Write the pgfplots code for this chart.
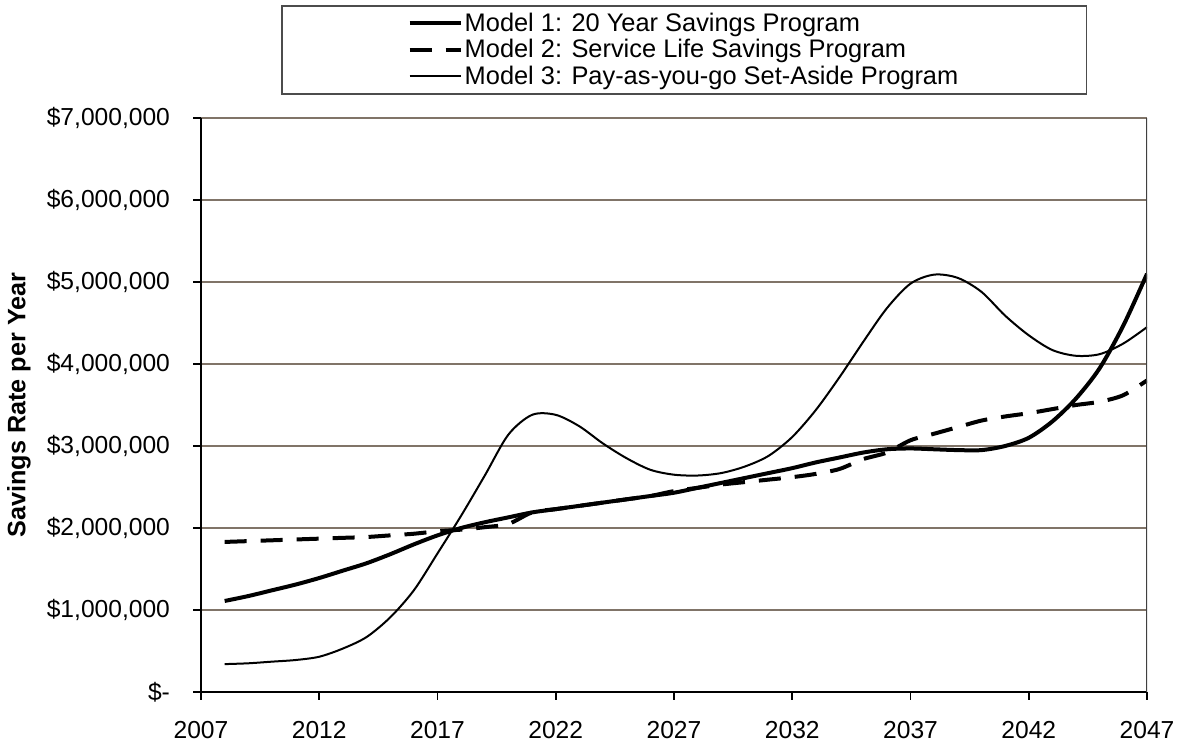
\documentclass[border=0pt]{standalone}
\usepackage{fontspec}
\setmainfont{Liberation Sans}
\usepackage{pgfplots}
\usepackage{pgfplotstable}
\pgfplotsset{compat=1.18}
\definecolor{gridbrown}{RGB}{128,116,104}

% Annual savings (millions of dollars)
\pgfplotstableread{
year m1   m2   m3
2008 1.11 1.83 0.34
2009 1.17 1.84 0.35
2010 1.24 1.85 0.37
2011 1.31 1.86 0.39
2012 1.39 1.87 0.43
2013 1.48 1.88 0.53
2014 1.57 1.89 0.67
2015 1.68 1.91 0.91
2016 1.80 1.93 1.24
2017 1.91 1.96 1.69
2018 2.00 1.98 2.15
2019 2.07 2.01 2.64
2020 2.13 2.05 3.14
2021 2.19 2.19 3.38
2022 2.23 2.23 3.38
2023 2.27 2.27 3.24
2024 2.31 2.31 3.03
2025 2.35 2.35 2.85
2026 2.39 2.39 2.71
2027 2.43 2.45 2.65
2028 2.49 2.49 2.64
2029 2.55 2.53 2.67
2030 2.61 2.56 2.75
2031 2.67 2.59 2.88
2032 2.73 2.62 3.11
2033 2.80 2.66 3.44
2034 2.86 2.72 3.84
2035 2.92 2.84 4.27
2036 2.96 2.92 4.68
2037 2.97 3.07 4.98
2038 2.96 3.15 5.09
2039 2.95 3.23 5.05
2040 2.95 3.31 4.88
2041 3.00 3.36 4.59
2042 3.10 3.40 4.35
2043 3.30 3.45 4.17
2044 3.58 3.50 4.10
2045 3.95 3.54 4.12
2046 4.47 3.62 4.25
2047 5.10 3.80 4.45
}\savings

\begin{document}
\begin{tikzpicture}
\path[use as bounding box] (0,0) rectangle (589pt,374pt);
\begin{axis}[
  at={(100.5pt,28pt)}, anchor=south west,
  scale only axis, width=473pt, height=287pt,
  xmin=2007, xmax=2047, ymin=0, ymax=7,
  axis x line*=bottom, axis y line*=left,
  axis line style={-, black, line width=0.9pt},
  xtick={2007,2012,...,2047},
  ytick={0,1,...,7},
  yticklabels={\$-,{\$1,000,000},{\$2,000,000},{\$3,000,000},{\$4,000,000},{\$5,000,000},{\$6,000,000},{\$7,000,000}},
  xticklabels={2007,2012,2017,2022,2027,2032,2037,2042,2047},
  tick align=outside, major tick length=4pt,
  tick style={black, line width=0.8pt},
  ymajorgrids, grid style={gridbrown, line width=0.9pt},
  ticklabel style={font=\fontsize{12.3}{14}\selectfont},
  yticklabel style={xshift=-8pt},
  xticklabel style={yshift=-7pt},
  ylabel={\textbf{Savings Rate per Year}},
  ylabel style={font=\fontsize{12.6}{14}\selectfont, at={(axis description cs:-0.1924,0.5)}, anchor=center},
  legend style={at={(axis description cs:0.5106,1.1969)}, anchor=north,
    draw=black!70, line width=0.8pt, inner xsep=63pt, inner ysep=1.5pt,
    row sep=-1.5pt,
    font=\fontsize{12.7}{14}\selectfont,
    nodes={inner xsep=1pt}},
  legend cell align=left,
  legend image code/.code={\draw[#1] (0pt,0pt) -- (25.5pt,0pt);},
]
\addplot[black, line width=2pt, smooth] table[x=year, y=m1] {\savings};
\addlegendentry{Model 1: 20 Year Savings Program}
\addplot[black, line width=2pt, smooth, dash pattern=on 11pt off 7pt] table[x=year, y=m2] {\savings};
\addlegendentry{Model 2: Service Life Savings Program}
\addplot[black, line width=1pt, smooth] table[x=year, y=m3] {\savings};
\addlegendentry{Model 3: Pay-as-you-go Set-Aside Program}
\draw[black!75, line width=0.9pt] (rel axis cs:1,0) -- (rel axis cs:1,1);
\end{axis}
\end{tikzpicture}
\end{document}
